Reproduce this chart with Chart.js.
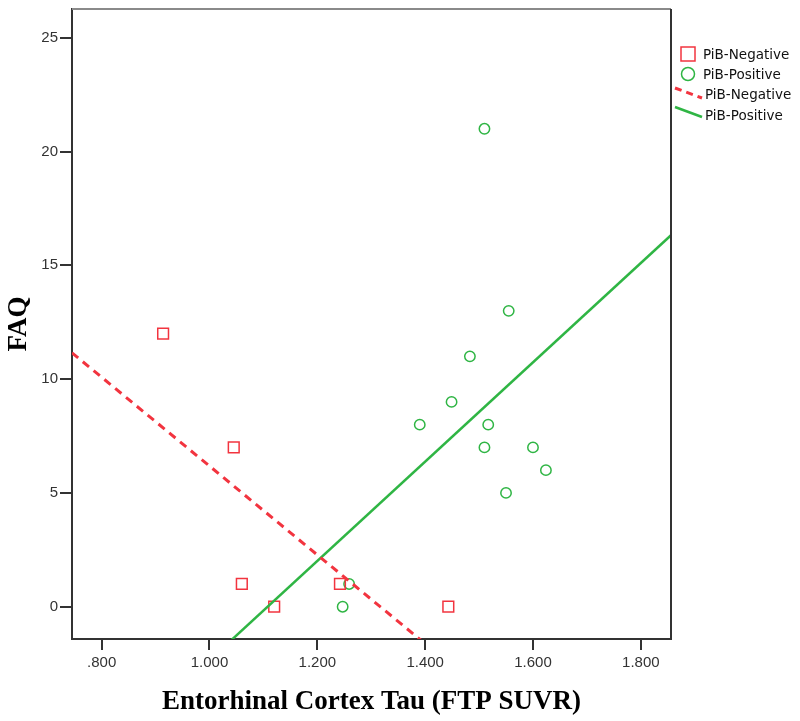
<!DOCTYPE html>
<html>
<head>
<meta charset="utf-8">
<script src="https://cdn.jsdelivr.net/npm/chart.js@4.4.0/dist/chart.umd.min.js"></script>
<style>
  html, body { margin: 0; padding: 0; background: #fff; }
  #wrap { width: 800px; height: 721px; }
</style>
</head>
<body>
<div id="wrap"><canvas id="faqChart" width="800" height="721"></canvas></div>
<script>
'use strict';

// ── data ──
const negTau = [0.914, 1.045, 1.060, 1.120, 1.242, 1.443];
const negFaq = [12, 7, 1, 0, 1, 0];

const posTau = [1.510, 1.555, 1.483, 1.449, 1.390, 1.517, 1.510, 1.600, 1.624, 1.550, 1.259, 1.247];
const posFaq = [21, 13, 11, 9, 8, 8, 7, 7, 6, 5, 1, 0];

const xTicks = [0.8, 1.0, 1.2, 1.4, 1.6, 1.8];
const yTicks = [0, 5, 10, 15, 20, 25];
const xRange = [0.745, 1.856];
const yRange = [-1.42, 26.26];

const RED = '#f2343f';
const GREEN = '#2fb544';

// least squares fit line, returned as two points across the x range
function fitLine(xs, ys) {
  const n = xs.length;
  const mx = xs.reduce((a, b) => a + b, 0) / n;
  const my = ys.reduce((a, b) => a + b, 0) / n;
  let sxy = 0, sxx = 0;
  xs.forEach((x, i) => { sxy += (x - mx) * (ys[i] - my); sxx += (x - mx) * (x - mx); });
  const b = sxy / sxx, a = my - b * mx;
  return xRange.map(x => ({ x, y: a + b * x }));
}

const pts = (xs, ys) => xs.map((x, i) => ({ x, y: ys[i] }));

// legend + frame drawn by hand, SPSS style
const framePlugin = {
  id: 'frame',
  afterDraw(chart) {
    const { ctx, chartArea: ca } = chart;
    ctx.save();
    ctx.lineWidth = 2;
    ctx.strokeStyle = '#8a8a8a';
    ctx.beginPath(); ctx.moveTo(ca.left, ca.top); ctx.lineTo(ca.right, ca.top); ctx.stroke();
    ctx.strokeStyle = '#333';
    ctx.beginPath(); ctx.moveTo(ca.right, ca.top); ctx.lineTo(ca.right, ca.bottom + 1); ctx.stroke();

    // legend
    const lx = ca.right + 10;
    ctx.lineWidth = 1.5;
    ctx.strokeStyle = RED;
    ctx.strokeRect(lx, 47, 14, 14);
    ctx.strokeStyle = GREEN;
    ctx.beginPath(); ctx.arc(lx + 7, 74, 6.5, 0, Math.PI * 2); ctx.stroke();
    ctx.lineWidth = 3;
    ctx.strokeStyle = RED;
    ctx.setLineDash([7, 5]);
    ctx.beginPath(); ctx.moveTo(lx - 6, 88); ctx.lineTo(lx + 21, 98); ctx.stroke();
    ctx.setLineDash([]);
    ctx.strokeStyle = GREEN;
    ctx.lineWidth = 2.5;
    ctx.beginPath(); ctx.moveTo(lx - 6, 107); ctx.lineTo(lx + 21, 117); ctx.stroke();

    ctx.fillStyle = '#111';
    ctx.font = "13.5px 'DejaVu Sans'";
    ctx.textBaseline = 'middle';
    ctx.fillText('PiB-Negative', lx + 22, 55);
    ctx.fillText('PiB-Positive', lx + 22, 75);
    ctx.fillText('PiB-Negative', lx + 24, 95);
    ctx.fillText('PiB-Positive', lx + 24, 116);
    ctx.restore();
  }
};

const tickFont = { family: "'Liberation Sans'", size: 15 };
const titleFont = { family: "'Liberation Serif'", size: 27, weight: 'bold' };

new Chart(document.getElementById('faqChart'), {
  data: {
    datasets: [
      {
        type: 'line', label: 'PiB-Negative fit', data: fitLine(negTau, negFaq),
        borderColor: RED, borderWidth: 3, borderDash: [8, 6], pointRadius: 0, fill: false
      },
      {
        type: 'line', label: 'PiB-Positive fit', data: fitLine(posTau, posFaq),
        borderColor: GREEN, borderWidth: 2.5, pointRadius: 0, fill: false
      },
      {
        type: 'scatter', label: 'PiB-Negative', data: pts(negTau, negFaq),
        pointStyle: 'rect', pointRadius: 7.6, borderColor: RED, borderWidth: 1.5,
        backgroundColor: 'rgba(0,0,0,0)'
      },
      {
        type: 'scatter', label: 'PiB-Positive', data: pts(posTau, posFaq),
        pointStyle: 'circle', pointRadius: 5.2, borderColor: GREEN, borderWidth: 1.5,
        backgroundColor: 'rgba(0,0,0,0)'
      }
    ]
  },
  options: {
    responsive: false,
    animation: false,
    layout: { padding: { top: 2, right: 129, left: 0, bottom: 0 } },
    plugins: { legend: { display: false }, tooltip: { enabled: false } },
    scales: {
      x: {
        type: 'linear', min: xRange[0], max: xRange[1],
        afterBuildTicks: s => { s.ticks = xTicks.map(v => ({ value: v })); },
        afterFit: s => { s.height = 82; s.paddingLeft = 0; s.paddingRight = 0; },
        grid: { drawOnChartArea: false, drawTicks: true, tickLength: 11, color: '#333', lineWidth: 2 },
        border: { display: true, color: '#333', width: 2 },
        ticks: {
          font: tickFont, color: '#333', padding: 4, maxRotation: 0,
          callback: v => { const s = v.toFixed(3); return v < 1 ? s.slice(1) : s; }
        },
        title: { display: true, text: 'Entorhinal Cortex Tau (FTP SUVR)', font: titleFont, color: '#000', padding: { top: 0, bottom: 3 } }
      },
      y: {
        type: 'linear', min: yRange[0], max: yRange[1],
        afterBuildTicks: s => { s.ticks = yTicks.map(v => ({ value: v })); },
        afterFit: s => { s.width = 72; s.paddingTop = 0; s.paddingBottom = 0; },
        grid: { drawOnChartArea: false, drawTicks: true, tickLength: 12, color: '#333', lineWidth: 2 },
        border: { display: true, color: '#333', width: 2 },
        ticks: { font: tickFont, color: '#333', padding: 2 },
        title: { display: true, text: 'FAQ', font: titleFont, color: '#000', padding: { top: 3, bottom: 0 } }
      }
    }
  },
  plugins: [framePlugin]
});
</script>
</body>
</html>
